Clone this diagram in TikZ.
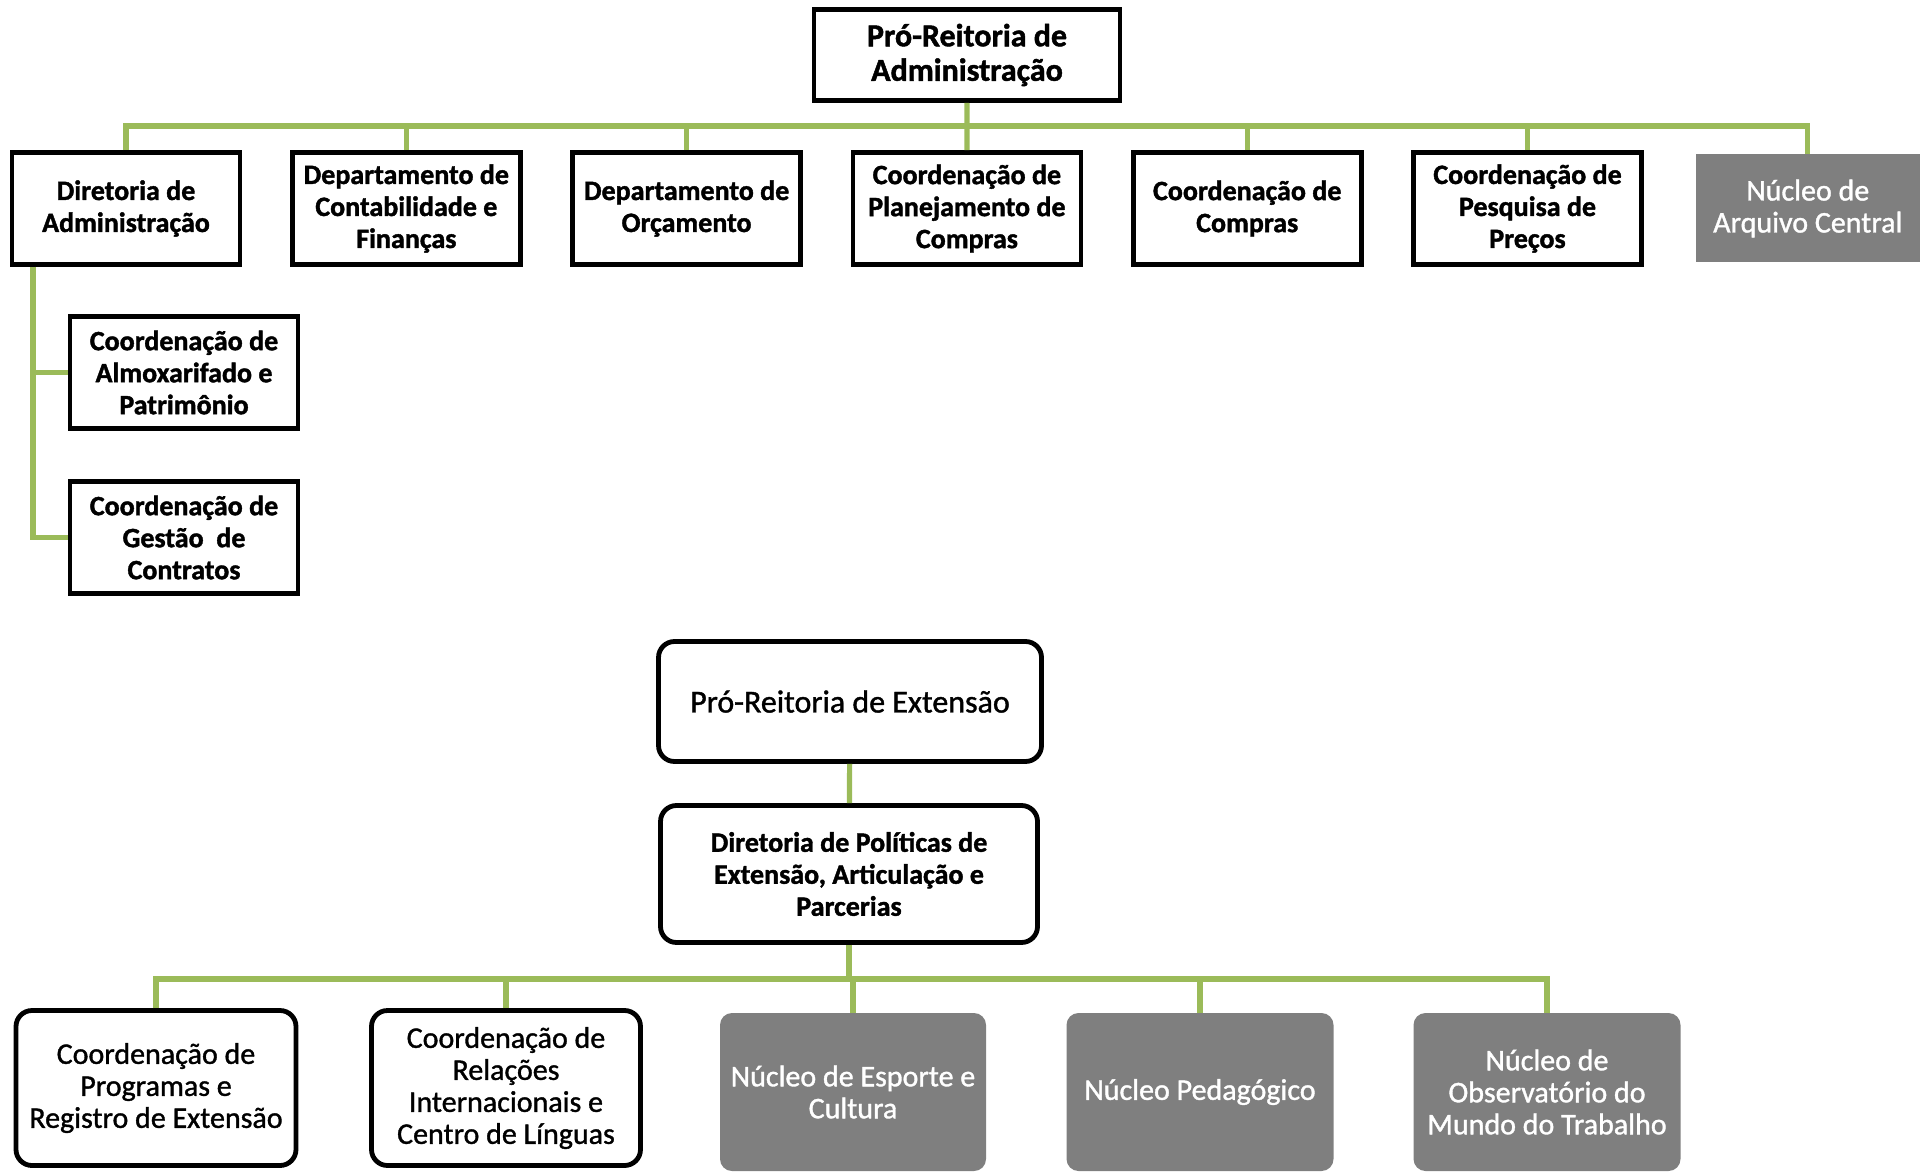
\documentclass[tikz,border=0pt]{standalone}
\usepackage{fontspec}
\setmainfont{Carlito}
\newfontfamily\medio{Carlito}[FakeBold=1.2]
\newfontfamily\negrito{Carlito Bold}[FakeBold=1.4]
\usepackage{tikz}
\usetikzlibrary{positioning}

\definecolor{verde}{HTML}{9BBB59}
\definecolor{cinza}{HTML}{7F7F7F}

\begin{document}
\begin{tikzpicture}[x=0.5pt, y=-0.5pt, node distance=140.15pt,
    caixa/.style = {draw, line width=2.4pt, align=center, inner sep=0pt, minimum width=114pt, minimum height=56pt, font=\fontsize{14}{16}\selectfont\negrito},
    redonda/.style = {draw, line width=2.4pt, rounded corners=8pt, align=center, inner sep=0pt, font=\fontsize{15}{16}\selectfont\medio},
    nucleo/.style = {fill=cinza, text=white, align=center, inner sep=0pt, font=\fontsize{15}{16}\selectfont\medio},
    liga/.style = {verde, line width=2.6pt}]

    \useasboundingbox (0,0) rectangle (1930,1171);

    % Pró-Reitoria de Administração
    \node[caixa, minimum width=153pt, minimum height=45.6pt, font=\fontsize{16}{17.25}\selectfont\negrito] (0) at (967,55) {Pró-Reitoria de\\Administração};
    \node[caixa] (1) at (126,208.5) {Diretoria de\\Administração};
    \node[caixa] (2) [right of=1] {Departamento de\\Contabilidade e\\Finanças};
    \node[caixa] (3) [right of=2] {Departamento de\\Orçamento};
    \node[caixa] (4) [right of=3] {Coordenação de\\Planejamento de\\Compras};
    \node[caixa] (5) [right of=4] {Coordenação de\\Compras};
    \node[caixa] (6) [right of=5] {Coordenação de\\Pesquisa de\\Preços};
    \node[nucleo, minimum width=112pt, minimum height=54pt] (7) [right of=6] {Núcleo de\\Arquivo Central};
    \node[caixa] (8) at (184,372.5) {Coordenação de\\Almoxarifado e\\Patrimônio};
    \node[caixa] (9) at (184,537.5) {Coordenação de\\Gestão~~de\\Contratos};

    \coordinate (barra) at (0,126);
    \coordinate (eixo) at (33,0);

    % Ligações
    \draw[liga] (0.south) -- (4.north);
    \draw[liga] (1.north) |- (7 |- barra) -- (7.north);
    \foreach \n in {2,3,5,6}
        \draw[liga] (\n.north) -- (\n |- barra);
    \draw[liga] (1.south -| eixo) |- (9.west);
    \draw[liga] (8.west) -- (8.west -| eixo);

    % Pró-Reitoria de Extensão
    \node[redonda, minimum width=191.5pt, minimum height=60pt, font=\fontsize{16}{17}\selectfont\medio] (10) at (850,701.5) {Pró-Reitoria de Extensão};
    \node[redonda, minimum width=188.5pt, minimum height=68.5pt, font=\fontsize{14}{16}\selectfont\negrito] (11) at (849,874) {Diretoria de Políticas de\\Extensão, Articulação e\\Parcerias};
    \node[redonda, minimum width=140pt, minimum height=77.5pt] (12) at (156,1088) {Coordenação de\\Programas e\\Registro de Extensão};
    \node[redonda, minimum width=134.5pt, minimum height=77.5pt] (13) at (506,1088) {Coordenação de\\Relações\\Internacionais e\\Centro de Línguas};
    \node[nucleo, rounded corners=6pt, minimum width=133pt, minimum height=79pt] (14) at (853,1092) {Núcleo de Esporte e\\Cultura};
    \node[nucleo, rounded corners=6pt, minimum width=133.5pt, minimum height=79pt] (15) at (1200,1092) {Núcleo Pedagógico};
    \node[nucleo, rounded corners=6pt, minimum width=133.5pt, minimum height=79pt] (16) at (1547,1092) {Núcleo de\\Observatório do\\Mundo do Trabalho};

    \coordinate (barra2) at (0,979);

    % Ligações
    \draw[liga] (10) -- (11);
    \draw[liga] (11.south) -- (11 |- barra2);
    \draw[liga] (12.north) |- (16 |- barra2) -- (16.north);
    \foreach \n in {13,14,15}
        \draw[liga] (\n.north) -- (\n |- barra2);

\end{tikzpicture}
\end{document}
